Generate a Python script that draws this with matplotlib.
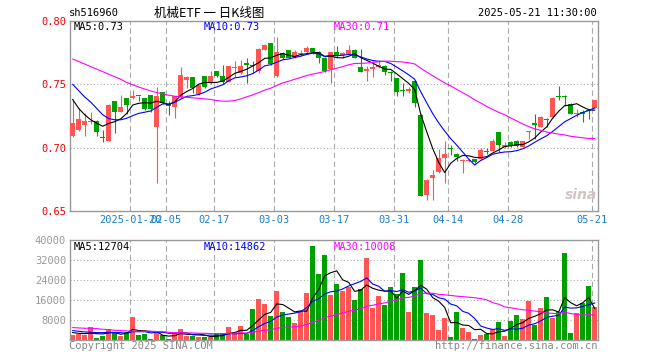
import matplotlib
matplotlib.use('Agg')
import matplotlib.pyplot as plt
import numpy as np

# daily candles 2025-01-06 .. 2025-05-21 (88 trading days)
opens = [0.7094, 0.7143, 0.7177, 0.7203, 0.7214, 0.7086, 0.7055, 0.7370, 0.7284, 0.7393,
         0.7393, 0.7409, 0.7393, 0.7417, 0.7161, 0.7440, 0.7346, 0.7320, 0.7401, 0.7536,
         0.7557, 0.7424, 0.7565, 0.7508, 0.7604, 0.7565, 0.7521, 0.7630, 0.7586, 0.7669,
         0.7656, 0.7602, 0.7773, 0.7826, 0.7562, 0.7750, 0.7773, 0.7719, 0.7742, 0.7753,
         0.7784, 0.7753, 0.7711, 0.7625, 0.7755, 0.7732, 0.7742, 0.7773, 0.7638, 0.7609,
         0.7622, 0.7638, 0.7646, 0.7599, 0.7549, 0.7453, 0.7450, 0.7529, 0.7260, 0.6628,
         0.6763, 0.6805, 0.6917, 0.7000, 0.6950, 0.6893, 0.6891, 0.6909, 0.6911, 0.6974,
         0.6977, 0.7120, 0.7003, 0.7047, 0.7050, 0.7008, 0.7125, 0.7198, 0.7167, 0.7229,
         0.7245, 0.7404, 0.7409, 0.7346, 0.7268, 0.7284, 0.7297, 0.7315]
highs = [0.7376, 0.7313, 0.7273, 0.7281, 0.7216, 0.7143, 0.7341, 0.7372, 0.7414, 0.7395,
         0.7458, 0.7411, 0.7395, 0.7419, 0.7477, 0.7442, 0.7367, 0.7408, 0.7635, 0.7562,
         0.7559, 0.7505, 0.7567, 0.7607, 0.7606, 0.7654, 0.7645, 0.7685, 0.7690, 0.7706,
         0.7685, 0.7789, 0.7815, 0.7828, 0.7875, 0.7755, 0.7775, 0.7771, 0.7768, 0.7802,
         0.7786, 0.7766, 0.7713, 0.7758, 0.7802, 0.7758, 0.7807, 0.7776, 0.7776, 0.7648,
         0.7685, 0.7690, 0.7654, 0.7609, 0.7552, 0.7508, 0.7482, 0.7534, 0.7266, 0.6750,
         0.6823, 0.6992, 0.7052, 0.7018, 0.6961, 0.6914, 0.6909, 0.6911, 0.6995, 0.6995,
         0.7068, 0.7122, 0.7042, 0.7050, 0.7060, 0.7055, 0.7133, 0.7268, 0.7250, 0.7232,
         0.7398, 0.7487, 0.7414, 0.7349, 0.7307, 0.7294, 0.7302, 0.7380]
lows = [0.7086, 0.7133, 0.7091, 0.7190, 0.7096, 0.7044, 0.7049, 0.7112, 0.7281, 0.7263,
        0.7388, 0.7372, 0.7297, 0.7281, 0.6724, 0.7341, 0.7258, 0.7237, 0.7393, 0.7471,
        0.7432, 0.7419, 0.7471, 0.7505, 0.7560, 0.7505, 0.7519, 0.7560, 0.7581, 0.7513,
        0.7586, 0.7589, 0.7771, 0.7656, 0.7557, 0.7700, 0.7706, 0.7711, 0.7727, 0.7747,
        0.7742, 0.7667, 0.7596, 0.7510, 0.7711, 0.7706, 0.7737, 0.7706, 0.7596, 0.7529,
        0.7560, 0.7628, 0.7570, 0.7529, 0.7404, 0.7404, 0.7430, 0.7320, 0.6617, 0.6589,
        0.6589, 0.6800, 0.6721, 0.6940, 0.6893, 0.6800, 0.6883, 0.6880, 0.6904, 0.6951,
        0.6974, 0.6964, 0.7000, 0.7008, 0.7008, 0.7005, 0.7068, 0.7068, 0.7164, 0.7167,
        0.7237, 0.7380, 0.7331, 0.7263, 0.7242, 0.7203, 0.7224, 0.7315]
closes = [0.7198, 0.7227, 0.7208, 0.7211, 0.7122, 0.7078, 0.7336, 0.7279, 0.7323, 0.7336,
          0.7409, 0.7404, 0.7302, 0.7307, 0.7409, 0.7352, 0.7328, 0.7406, 0.7573, 0.7557,
          0.7471, 0.7497, 0.7479, 0.7565, 0.7565, 0.7521, 0.7643, 0.7638, 0.7643, 0.7651,
          0.7646, 0.7776, 0.7810, 0.7661, 0.7755, 0.7711, 0.7711, 0.7755, 0.7747, 0.7784,
          0.7755, 0.7711, 0.7607, 0.7755, 0.7727, 0.7745, 0.7773, 0.7711, 0.7599, 0.7620,
          0.7635, 0.7651, 0.7596, 0.7589, 0.7443, 0.7448, 0.7461, 0.7354, 0.6622, 0.6745,
          0.6784, 0.6917, 0.6948, 0.6992, 0.6930, 0.6906, 0.6904, 0.6883, 0.6982, 0.6969,
          0.7052, 0.7021, 0.7021, 0.7013, 0.7013, 0.7050, 0.7130, 0.7177, 0.7245, 0.7219,
          0.7396, 0.7398, 0.7401, 0.7268, 0.7273, 0.7268, 0.7289, 0.7380]
volumes = [2270, 2530, 2270, 5200, 930, 1730, 4530, 3070, 1730, 3200,
           9330, 2130, 2530, 400, 3070, 2000, 400, 3330, 4530, 1730,
           1730, 1200, 1330, 1330, 2530, 3070, 5200, 3330, 5730, 2670,
           12400, 16530, 14400, 9600, 19600, 11200, 9330, 6800, 11730, 18800,
           37600, 26400, 34000, 18000, 22530, 19600, 21330, 16000, 20530, 32930,
           12930, 17600, 14000, 21200, 18270, 26930, 11200, 21200, 31870, 10800,
           10000, 4130, 8800, 1330, 11200, 4930, 3330, 400, 2130, 2530,
           4530, 7330, 1730, 7600, 10000, 8530, 15730, 6000, 12930, 17200,
           8930, 11200, 34930, 2800, 10930, 15000, 21600, 13200]

# moving-average values shown before a full window exists
ma5_head = [0.738, 0.731, 0.726, 0.722]
ma10_head = [0.750, 0.745, 0.740, 0.736, 0.731, 0.726, 0.723, 0.722, 0.722]
ma30_head = [0.770, 0.768, 0.766, 0.764, 0.762, 0.760, 0.758, 0.756, 0.754, 0.7515,
             0.7497, 0.7479, 0.7463, 0.7448, 0.7435, 0.7424, 0.7414, 0.7406, 0.7401, 0.7398,
             0.7393, 0.7390, 0.7385, 0.7380, 0.7372, 0.7367, 0.7367, 0.7372, 0.7385]
vma5_head = [3070, 2800, 2670, 2800]
vma10_head = [3870, 3600, 3330, 3200, 3070, 3070, 3200, 3200, 3070]
vma30_head = [5070, 4930, 4800, 4800, 4670, 4400, 4270, 4000, 3870, 3730,
              3600, 3600, 3600, 3600, 3470, 3470, 3200, 3070, 3070, 2930,
              2930, 2800, 2800, 2670, 2670, 2670, 2800, 2800, 2930]

ma_labels = ['0.73', '0.73', '0.71']
vma_labels = ['12704', '14862', '10008']

tick_idx = [10, 16, 24, 34, 44, 54, 63, 73, 87]
tick_lbl = ['2025-01-20', '02-05', '02-17', '03-03', '03-17', '03-31', '04-14', '04-28', '05-21']

RED = '#ff5555'
GREEN = '#00a000'
MONO = 'DejaVu Sans Mono'
W, H = 660, 360


def moving(vals, n, head):
    out = list(head)
    for i in range(len(head), len(vals)):
        out.append(np.mean(vals[i - n + 1:i + 1]))
    return np.array(out)


def fx(x):
    return x / W


def fy(y):
    return 1 - y / H


n = len(closes)
xs = np.arange(n) + 0.4
o = np.array(opens); c = np.array(closes)
up = c >= o
cols = [RED if u else GREEN for u in up]

fig = plt.figure(figsize=(6.6, 3.6), dpi=100)
fig.patch.set_facecolor('white')
ax = fig.add_axes([fx(70.3), fy(211), fx(598.3) - fx(70.3), fy(21) - fy(211)])
axv = fig.add_axes([fx(70.3), fy(340.3), fx(598.3) - fx(70.3), fy(240) - fy(340.3)])

for a in (ax, axv):
    a.set_xlim(0, n)
    for s in a.spines.values():
        s.set_color('#999999')
        s.set_linewidth(1.0)
    for t in tick_idx:
        a.axvline(t, color='#aaaaaa', lw=0.8, ls=(0, (5, 3)), zorder=0)
    a.tick_params(length=0)

# price panel
ax.set_ylim(0.65, 0.80)
for g in (0.70, 0.75):
    ax.axhline(g, color='#aaaaaa', lw=0.8, ls=(0, (1, 2)), zorder=0)
ax.vlines(xs, lows, highs, colors=cols, lw=0.8, zorder=2)
body_lo = np.minimum(o, c)
body_h = np.maximum(np.abs(c - o), 0.0008)
ax.bar(xs, body_h, bottom=body_lo, width=0.8, color=cols, lw=0, zorder=3)
ax.plot(xs, moving(c, 5, ma5_head), color='black', lw=0.8, zorder=4)
ax.plot(xs, moving(c, 10, ma10_head), color='#0000ff', lw=0.8, zorder=4)
ax.plot(xs, moving(c, 30, ma30_head), color='#ff00ff', lw=0.8, zorder=4)
ax.set_yticks([0.65, 0.70, 0.75, 0.80])
ax.set_yticklabels(['0.65', '0.70', '0.75', '0.80'], color='#ee0000',
                   family=MONO, fontsize=7.5)
ax.set_xticks(tick_idx)
ax.set_xticklabels(tick_lbl, color='#1a7fd0', family=MONO, fontsize=7.5)
ax.tick_params(axis='y', pad=3)
ax.tick_params(axis='x', pad=3)

# volume panel
v = np.array(volumes, dtype=float)
axv.set_ylim(0, 40000)
for g in (8000, 16000, 24000, 32000):
    axv.axhline(g, color='#aaaaaa', lw=0.8, ls=(0, (1, 2)), zorder=0)
axv.bar(xs, v, width=0.8, color=cols, lw=0, zorder=2)
axv.plot(xs, moving(v, 5, vma5_head), color='black', lw=0.8, zorder=4)
axv.plot(xs, moving(v, 10, vma10_head), color='#0000ff', lw=0.8, zorder=4)
axv.plot(xs, moving(v, 30, vma30_head), color='#ff00ff', lw=0.8, zorder=4)
axv.set_yticks([8000, 16000, 24000, 32000, 40000])
axv.set_yticklabels(['8000', '16000', '24000', '32000', '40000'], color='#999999',
                    family=MONO, fontsize=7.5)
axv.set_xticks([])
axv.tick_params(axis='y', pad=3)

# texts
fig.text(fx(69), fy(13), 'sh516960', family=MONO, fontsize=7.5, va='center', ha='left')
fig.text(fx(209), fy(13), '机械ETF 一 日K线图', family=['Noto Sans CJK SC', 'DejaVu Sans'],
         fontsize=9, va='center', ha='center')
fig.text(fx(597), fy(13), '2025-05-21 11:30:00', family=MONO, fontsize=7.5,
         va='center', ha='right')
ma_cols = ['black', '#0000ff', '#ff00ff']
for k, (nm, xx) in enumerate(zip(['MA5', 'MA10', 'MA30'], [74, 204, 334])):
    fig.text(fx(xx), fy(26.5), nm + ':' + ma_labels[k], family=MONO, fontsize=7.5,
             color=ma_cols[k], va='center', ha='left')
    fig.text(fx(xx), fy(246.5), nm + ':' + vma_labels[k], family=MONO, fontsize=7.5,
             color=ma_cols[k], va='center', ha='left')
fig.text(fx(69), fy(346), 'Copyright 2025 SINA.COM', family=MONO, fontsize=7.5,
         color='#888888', va='center', ha='left')
fig.text(fx(597), fy(346), 'http://finance.sina.com.cn', family=MONO, fontsize=7.5,
         color='#888888', va='center', ha='right')
fig.text(fx(581), fy(195), 'sina', fontsize=10, style='italic', weight='bold',
         color='#d0c4c4', va='center', ha='center')

fig.savefig('out.png', dpi=100)
